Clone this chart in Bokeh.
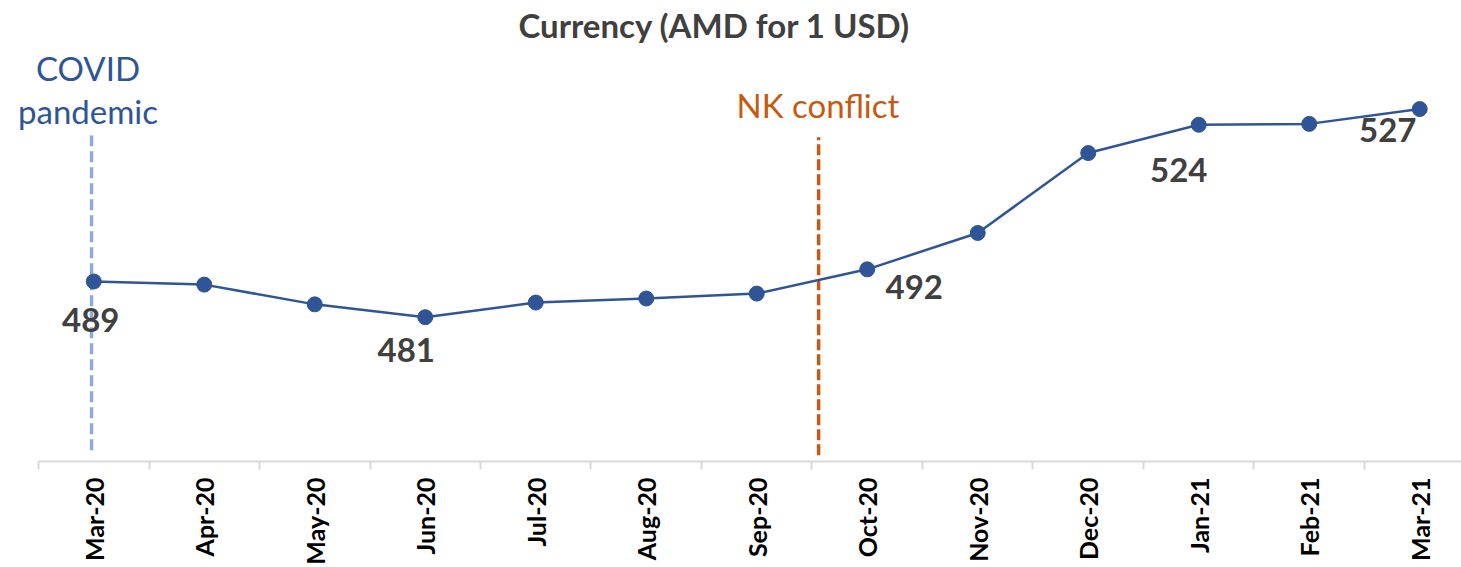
from math import pi
from bokeh.plotting import figure
from bokeh.models import Range1d, FixedTicker, ColumnDataSource
from bokeh.core.properties import value
from bokeh.embed import file_html
from bokeh.resources import INLINE

# ---------------- data ----------------
months = ["Mar-20", "Apr-20", "May-20", "Jun-20", "Jul-20", "Aug-20", "Sep-20",
          "Oct-20", "Nov-20", "Dec-20", "Jan-21", "Feb-21", "Mar-21"]
amd_per_usd = [489.0, 488.3, 483.9, 481.05, 484.3, 485.2, 486.3,
               491.7, 499.8, 517.6, 523.9, 524.1, 527.4]
labelled_months = ["Mar-20", "Jun-20", "Oct-20", "Jan-21", "Mar-21"]
title_text = "Currency (AMD for 1 USD)"
covid_text = ["COVID", "pandemic"]
nk_text = "NK conflict"

# ---------------- styling ----------------
LINE = "#2F5597"
ORANGE = "#C55A11"
LIGHTBLUE = "#8FAADC"
DARK = "#404040"
FONT = "Lato"

xs = list(range(len(months)))

p = figure(width=1461, height=567, output_backend="svg", toolbar_location=None,
           x_range=Range1d(-0.844, 12.378), y_range=Range1d(448.9, 551.58),
           y_axis_type=None, min_border_left=0, min_border_right=0,
           min_border_top=0, min_border_bottom=106)
p.outline_line_color = None
p.xgrid.visible = False
p.ygrid.visible = False
p.background_fill_color = "white"
p.border_fill_color = "white"

ax = p.xaxis[0]
ax.bounds = (-0.5, 12.378)
ax.ticker = FixedTicker(ticks=xs, minor_ticks=[i - 0.5 for i in range(len(months) + 1)])
ax.major_label_overrides = {i: m for i, m in enumerate(months)}
ax.major_label_orientation = pi / 2
ax.major_label_text_font = FONT
ax.major_label_text_font_style = "bold"
ax.major_label_text_font_size = "25px"
ax.major_label_text_color = "black"
ax.major_label_standoff = 8
ax.major_tick_line_color = None
ax.major_tick_out = 0
ax.major_tick_in = 0
ax.minor_tick_line_color = "#D9D9D9"
ax.minor_tick_line_width = 2
ax.minor_tick_in = 0
ax.minor_tick_out = 8
ax.axis_line_color = "#D9D9D9"
ax.axis_line_width = 2

# event lines
p.segment(x0=[-0.02], y0=[451.4], x1=[-0.02], y1=[521.5],
          line_color=LIGHTBLUE, line_width=3.5, line_dash="11 5")
p.segment(x0=[6.56], y0=[450.3], x1=[6.56], y1=[521.1],
          line_color=ORANGE, line_width=3.5, line_dash="11 4")

# series
src = ColumnDataSource(dict(x=xs, y=amd_per_usd))
p.line("x", "y", source=src, line_color=LINE, line_width=2.5)
p.scatter("x", "y", source=src, size=15, marker="circle",
          fill_color=LINE, line_color=LINE)

# value labels
lab_offsets = {"Mar-20": (-3, 39), "Jun-20": (-19, 33), "Oct-20": (47, 18),
               "Jan-21": (-20, 45.5), "Mar-21": (-32, 20.5)}
lx, ly, lt, dx, dy = [], [], [], [], []
for m in labelled_months:
    i = months.index(m)
    lx.append(i)
    ly.append(amd_per_usd[i])
    lt.append(str(int(round(amd_per_usd[i]))))
    dx.append(lab_offsets[m][0])
    dy.append(lab_offsets[m][1])
p.text(x=lx, y=ly, text=lt, x_offset=dx, y_offset=dy,
       text_font=value(FONT), text_font_style="bold", text_font_size="33px",
       text_color=DARK, text_align="center", text_baseline="alphabetic")

# title
p.text(x=[5.618], y=[546.2], text=[title_text], text_font=value(FONT),
       text_font_style="bold", text_font_size="33px", text_color=DARK,
       text_align="center", text_baseline="alphabetic")

# annotations
p.text(x=[-0.052, -0.052], y=[536.6, 527.0], text=covid_text, text_font=value(FONT),
       text_font_size="33px", text_color=LINE, text_align="center",
       text_baseline="alphabetic")
p.text(x=[6.554], y=[528.3], text=[nk_text], text_font=value(FONT),
       text_font_size="33px", text_color=ORANGE, text_align="center",
       text_baseline="alphabetic")

open("out.html", "w").write(file_html(p, INLINE))
